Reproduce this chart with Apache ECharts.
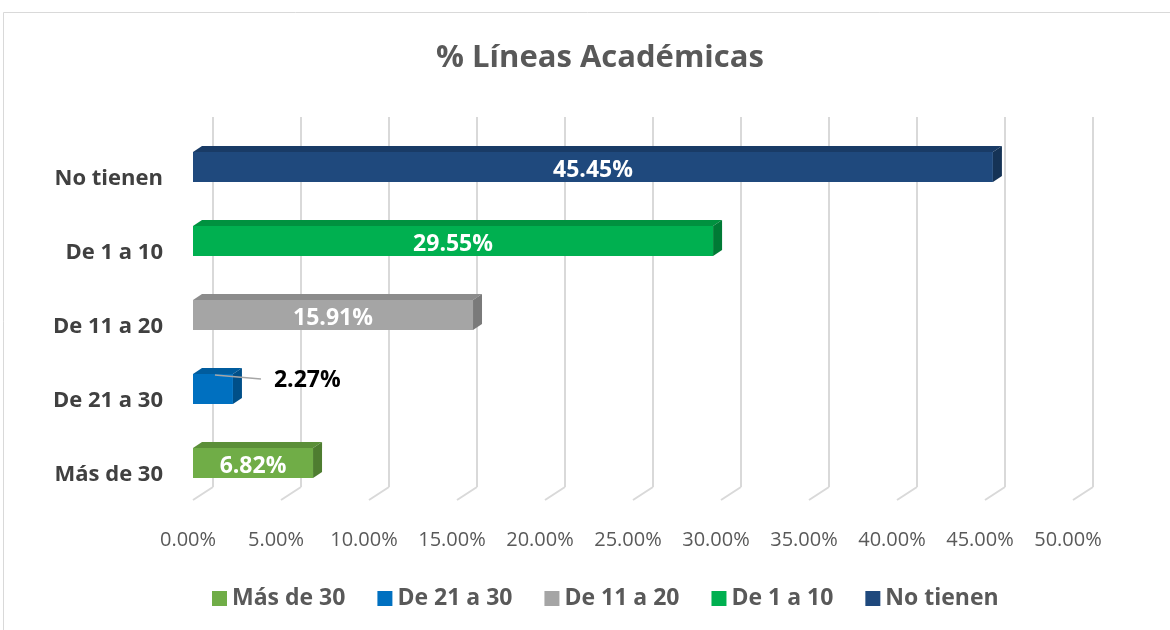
<!DOCTYPE html>
<html>
<head>
<meta charset="utf-8">
<script src="https://cdn.jsdelivr.net/npm/echarts@6/dist/echarts.min.js"></script>
<style>
html,body{margin:0;padding:0;background:#fff;}
#chart{width:1170px;height:630px;}
</style>
</head>
<body>
<div id="chart"></div>
<script>
const categories = ['Más de 30', 'De 21 a 30', 'De 11 a 20', 'De 1 a 10', 'No tienen'];
const values = [6.82, 2.27, 15.91, 29.55, 45.45];
const ticks = [0, 5, 10, 15, 20, 25, 30, 35, 40, 45, 50];
const frontColors = ['#70AD47', '#0070C0', '#A5A5A5', '#00B050', '#1F497D'];
const topColors = ['#5b8f38', '#005c9e', '#8c8c8c', '#00913f', '#193b66'];
const sideColors = ['#4e7d30', '#004f88', '#7a7a7a', '#007a35', '#153356'];

const FONT = 'Open Sans';
const DX = 9, DY = -6;        // bar depth
const WDX = 20, WDY = -13;    // wall depth
const BAR_H = 30;

const chart = echarts.init(document.getElementById('chart'));

const barSeries = categories.map((name, i) => ({
  name: name,
  type: 'custom',
  coordinateSystem: 'cartesian2d',
  itemStyle: { color: frontColors[i] },
  z: 5,
  encode: { x: 0, y: 1 },
  data: [[values[i], i]],
  renderItem: function (params, api) {
    const v = api.value(0), c = api.value(1);
    const p0 = api.coord([0, c]);
    const p1 = api.coord([v, c]);
    const yt = p0[1] - BAR_H / 2, yb = p0[1] + BAR_H / 2;
    const x0 = p0[0], x1 = p1[0];
    const children = [
      { type: 'polygon', shape: { points: [[x0, yt], [x0 + DX, yt + DY], [x1 + DX, yt + DY], [x1, yt]] }, style: { fill: topColors[i] } },
      { type: 'polygon', shape: { points: [[x1, yt], [x1 + DX, yt + DY], [x1 + DX, yb + DY], [x1, yb]] }, style: { fill: sideColors[i] } },
      { type: 'rect', shape: { x: x0, y: yt, width: x1 - x0, height: BAR_H }, style: { fill: frontColors[i] } }
    ];
    const txt = v.toFixed(2) + '%';
    if (x1 - x0 > 90) {
      children.push({ type: 'text', style: { x: (x0 + x1) / 2, y: p0[1] + 3, text: txt, fill: '#ffffff', font: 'bold 23px "' + FONT + '"', align: 'center', verticalAlign: 'middle' } });
    } else {
      children.push({ type: 'line', shape: { x1: x1 - 18, y1: p0[1] - 14, x2: x1 + 28, y2: p0[1] - 10 }, style: { stroke: '#a6a6a6', lineWidth: 1.3 } });
      children.push({ type: 'text', style: { x: x1 + 41, y: p0[1] - 9, text: txt, fill: '#000000', font: 'bold 23px "' + FONT + '"', align: 'left', verticalAlign: 'middle' } });
    }
    return { type: 'group', children: children };
  }
}));

const gridSeries = {
  name: 'grid',
  type: 'custom',
  coordinateSystem: 'cartesian2d',
  silent: true,
  z: 1,
  encode: { x: 0, y: 1 },
  data: ticks.map(t => [t, 0]),
  renderItem: function (params, api) {
    const cs = params.coordSys;
    const x = api.coord([api.value(0), 0])[0];
    const bottom = cs.y + cs.height;
    return {
      type: 'group',
      children: [
        { type: 'line', shape: { x1: x + WDX, y1: cs.y + WDY, x2: x + WDX, y2: bottom + WDY }, style: { stroke: '#d9d9d9', lineWidth: 2 } },
        { type: 'line', shape: { x1: x + WDX, y1: bottom + WDY, x2: x, y2: bottom }, style: { stroke: '#d9d9d9', lineWidth: 2 } }
      ]
    };
  }
};

chart.setOption({
  backgroundColor: '#ffffff',
  animation: false,
  color: frontColors,
  title: {
    text: '% Líneas Académicas',
    left: 595,
    textAlign: 'center',
    top: 38,
    textStyle: { fontFamily: FONT, fontSize: 31, fontWeight: 'bold', color: '#595959' }
  },
  legend: {
    data: categories,
    bottom: 15,
    left: 207,
    icon: 'rect',
    itemWidth: 15,
    itemHeight: 15,
    itemGap: 32,
    textStyle: { fontFamily: FONT, fontSize: 23, fontWeight: 'bold', color: '#595959' },
    selectedMode: false
  },
  grid: { left: 193, right: 97, top: 130, bottom: 130, containLabel: false },
  xAxis: {
    type: 'value',
    min: 0, max: 50, interval: 5,
    axisLine: { show: false }, axisTick: { show: false }, splitLine: { show: false },
    axisLabel: {
      formatter: v => v.toFixed(2) + '%',
      fontFamily: FONT, fontSize: 20, color: '#595959', margin: 30,
      padding: [0, 10, 0, 0]
    }
  },
  yAxis: {
    type: 'category',
    data: categories,
    axisLine: { show: false }, axisTick: { show: false }, splitLine: { show: false },
    axisLabel: {
      fontFamily: FONT, fontSize: 22, fontWeight: 'bold', color: '#404040', margin: 30,
      verticalAlign: 'top', lineHeight: 23
    }
  },
  graphic: [
    { type: 'rect', shape: { x: 3.5, y: 12.5, width: 1200, height: 700 }, style: { fill: 'none', stroke: '#d9d9d9', lineWidth: 1 }, silent: true, z: -10 }
  ],
  series: [gridSeries].concat(barSeries)
});
</script>
</body>
</html>
